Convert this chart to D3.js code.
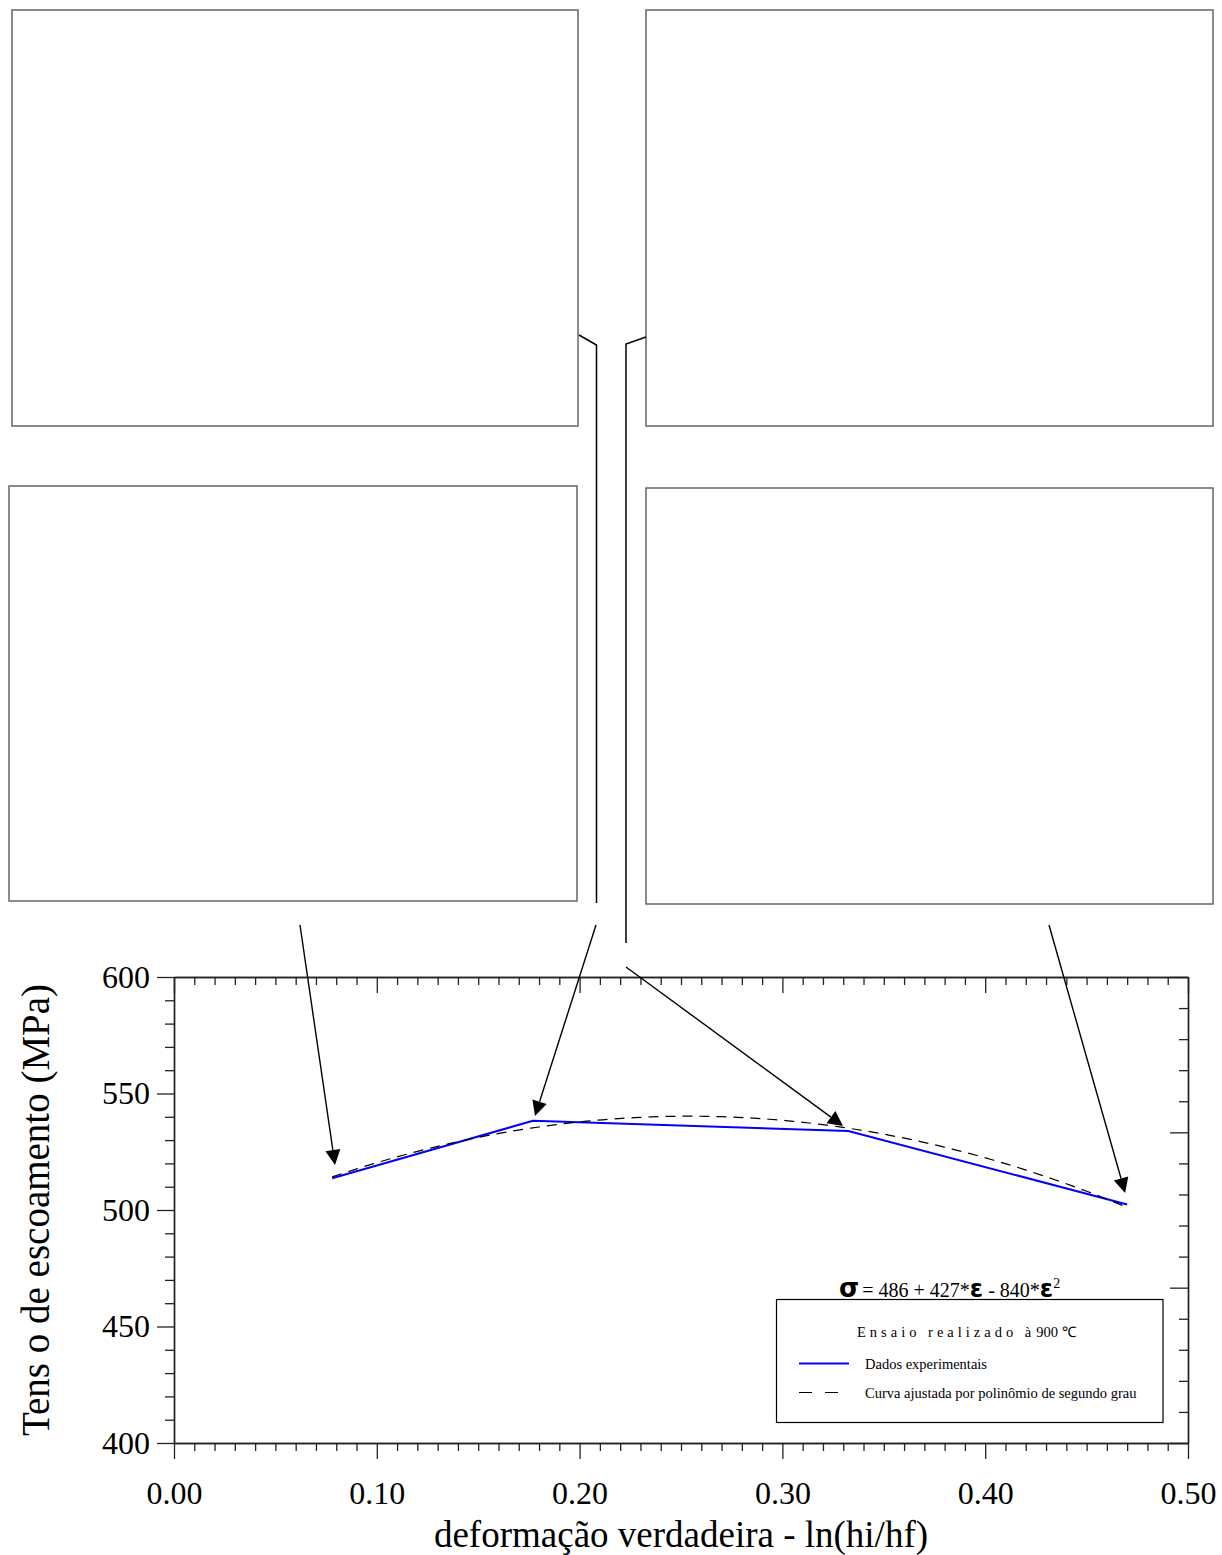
<!DOCTYPE html>
<html>
<head>
<meta charset="utf-8">
<script src="https://cdn.jsdelivr.net/npm/d3@7"></script>
<style>
  html, body { margin: 0; padding: 0; background: #fff; }
  svg { display: block; }
  text { font-family: "Times New Roman", "Liberation Serif", serif; fill: #000; }
</style>
</head>
<body>
<svg id="chart" width="1222" height="1555"></svg>
<script>
// Flow stress measured at 900 °C versus true strain
const strain = [0.078, 0.177, 0.3325, 0.470];
const stress = [513.6, 538.3, 533.9, 502.4];

// Second-degree polynomial fit: sigma = c0 + c1*e + c2*e^2
const fitCoef = [486, 427, -840];

// Axis ticks
const xMajorTicks = [0, 0.1, 0.2, 0.3, 0.4, 0.5];
const yMajorTicks = [400, 450, 500, 550, 600];

// Arrow tips (strain, stress) pointing at the four tested passes
const arrowTipStrain = [0.0794, 0.178, 0.3299, 0.469];
const arrowTipStress = [519.3, 540.3, 536.05, 507.3];

const svg = d3.select("#chart");

const plot = { left: 174, right: 1188, top: 977, bottom: 1443 };
const x = d3.scaleLinear([0, 0.5], [plot.left, plot.right]);
const y = d3.scaleLinear([400, 600], [plot.bottom, plot.top]);
const yRight = d3.scaleLinear([0, 15], [plot.bottom, plot.top]);

const axisColor = "#222";
const tickFont = 32;

function styleAxis(g) {
  g.selectAll("path.domain").attr("stroke", axisColor).attr("stroke-width", 1.4);
  g.selectAll(".tick line").attr("stroke", axisColor).attr("stroke-width", 1.3);
  g.selectAll("text").attr("font-family", "'Times New Roman', 'Liberation Serif', serif")
    .attr("font-size", tickFont).attr("fill", "#000");
}

const xMinor = d3.range(0, 51).map(i => i / 100).filter(v => Math.round(v * 100) % 10 !== 0);
const yMinor = d3.range(400, 601, 10).filter(v => v % 50 !== 0);
const rMinor = d3.range(0, 16).filter(v => v % 5 !== 0);

// Bottom axis: outward ticks with labels
svg.append("g").attr("transform", `translate(0,${plot.bottom})`)
  .call(d3.axisBottom(x).tickValues(xMinor).tickSize(8).tickSizeOuter(0).tickFormat(""))
  .call(styleAxis);
svg.append("g").attr("transform", `translate(0,${plot.bottom})`)
  .call(d3.axisBottom(x).tickValues(xMajorTicks).tickSize(16).tickSizeOuter(0)
    .tickPadding(22).tickFormat(d3.format(".2f")))
  .call(styleAxis);

// Top axis: inward ticks, no labels
svg.append("g").attr("transform", `translate(0,${plot.top})`)
  .call(d3.axisBottom(x).tickValues(xMinor).tickSize(8).tickSizeOuter(0).tickFormat(""))
  .call(styleAxis);
svg.append("g").attr("transform", `translate(0,${plot.top})`)
  .call(d3.axisBottom(x).tickValues(xMajorTicks).tickSize(16).tickSizeOuter(0).tickFormat(""))
  .call(styleAxis);

// Left axis: outward ticks with labels
svg.append("g").attr("transform", `translate(${plot.left},0)`)
  .call(d3.axisLeft(y).tickValues(yMinor).tickSize(9).tickSizeOuter(0).tickFormat(""))
  .call(styleAxis);
svg.append("g").attr("transform", `translate(${plot.left},0)`)
  .call(d3.axisLeft(y).tickValues(yMajorTicks).tickSize(17).tickSizeOuter(0)
    .tickPadding(7).tickFormat(d3.format("d")))
  .call(styleAxis);

// Right axis: inward ticks on its own subdivision
svg.append("g").attr("transform", `translate(${plot.right},0)`)
  .call(d3.axisLeft(yRight).tickValues(rMinor).tickSize(9).tickSizeOuter(0).tickFormat(""))
  .call(styleAxis);
svg.append("g").attr("transform", `translate(${plot.right},0)`)
  .call(d3.axisLeft(yRight).tickValues([0, 5, 10, 15]).tickSize(18).tickSizeOuter(0).tickFormat(""))
  .call(styleAxis);

// Axis titles
svg.append("text")
  .attr("x", (plot.left + plot.right) / 2)
  .attr("y", 1547)
  .attr("text-anchor", "middle")
  .attr("font-size", 37)
  .text("deformação verdadeira - ln(hi/hf)");

svg.append("text")
  .attr("transform", `translate(49,1210) rotate(-90)`)
  .attr("text-anchor", "middle")
  .attr("font-size", 39)
  .text("Tens o de escoamento (MPa)");

// Empty micrograph frames above the plot
const frames = [
  { x: 12, y: 10, w: 566, h: 416 },
  { x: 646, y: 10, w: 567, h: 416 },
  { x: 9, y: 486, w: 568, h: 415 },
  { x: 646, y: 488, w: 567, h: 416 }
];
svg.append("g").selectAll("rect").data(frames).join("rect")
  .attr("x", d => d.x).attr("y", d => d.y)
  .attr("width", d => d.w).attr("height", d => d.h)
  .attr("fill", "none").attr("stroke", "#666").attr("stroke-width", 1.5);

// Leader lines from the upper frames
const leaders = [
  [[579, 335], [596.5, 345], [596.5, 903]],
  [[646, 337], [626, 344], [626, 943]]
];
svg.append("g").selectAll("path").data(leaders).join("path")
  .attr("d", d => d3.line()(d))
  .attr("fill", "none").attr("stroke", "#000").attr("stroke-width", 1.5);

// Experimental data
const pts = strain.map((s, i) => [s, stress[i]]);
svg.append("path")
  .datum(pts)
  .attr("d", d3.line().x(d => x(d[0])).y(d => y(d[1])))
  .attr("fill", "none").attr("stroke", "#0000ff").attr("stroke-width", 2);

// Fitted polynomial over the measured strain range
const poly = e => fitCoef[0] + fitCoef[1] * e + fitCoef[2] * e * e;
const eFit = d3.range(0, 101).map(i => strain[0] + (strain[strain.length - 1] - strain[0]) * i / 100);
svg.append("path")
  .datum(eFit)
  .attr("d", d3.line().x(e => x(e)).y(e => y(poly(e))))
  .attr("fill", "none").attr("stroke", "#000").attr("stroke-width", 1.2)
  .attr("stroke-dasharray", "10,7");

// Arrows linking frames to data points
const arrowStarts = [[300, 925], [596, 925], [626, 967], [1049, 925]];
const arrows = arrowStarts.map((s, i) => ({ s, t: [x(arrowTipStrain[i]), y(arrowTipStress[i])] }));
const ag = svg.append("g");
arrows.forEach(a => {
  const dx = a.t[0] - a.s[0], dy = a.t[1] - a.s[1];
  const L = Math.hypot(dx, dy), ux = dx / L, uy = dy / L;
  const headL = 15, headW = 7.5;
  const bx = a.t[0] - ux * headL, by = a.t[1] - uy * headL;
  ag.append("line").attr("x1", a.s[0]).attr("y1", a.s[1]).attr("x2", bx).attr("y2", by)
    .attr("stroke", "#000").attr("stroke-width", 1.4);
  ag.append("path")
    .attr("d", `M${a.t[0]},${a.t[1]} L${bx - uy * headW},${by + ux * headW} L${bx + uy * headW},${by - ux * headW} Z`)
    .attr("fill", "#000");
});

// Equation of the fitted curve
const eq = svg.append("text").attr("x", 839).attr("y", 1297).attr("font-size", 20);
eq.append("tspan").attr("font-family", "'DejaVu Sans', sans-serif").attr("font-weight", "bold")
  .attr("font-size", 26).text("σ");
eq.append("tspan").attr("dx", -2).text(` = ${fitCoef[0]} + ${fitCoef[1]}*`);
eq.append("tspan").attr("font-family", "'DejaVu Sans', sans-serif").attr("font-weight", "bold")
  .attr("font-size", 24).text("ε");
eq.append("tspan").text(` - ${-fitCoef[2]}*`);
eq.append("tspan").attr("font-family", "'DejaVu Sans', sans-serif").attr("font-weight", "bold")
  .attr("font-size", 24).text("ε");
eq.append("tspan").attr("font-size", 14).attr("dy", -9).text("2");

// Legend
const lg = svg.append("g");
lg.append("rect").attr("x", 776.5).attr("y", 1299.5).attr("width", 386.5).attr("height", 123)
  .attr("fill", "#fff").attr("stroke", "#000").attr("stroke-width", 1.2);
const title = lg.append("text").attr("x", 857).attr("y", 1337).attr("font-size", 14.5);
title.append("tspan").attr("letter-spacing", 4).text("Ensaio realizado à");
title.append("tspan").attr("dx", 1).text("900 ℃");

lg.append("line").attr("x1", 799).attr("x2", 849).attr("y1", 1363.5).attr("y2", 1363.5)
  .attr("stroke", "#0000ff").attr("stroke-width", 1.8);
lg.append("text").attr("x", 865).attr("y", 1369).attr("font-size", 14.5).text("Dados experimentais");

lg.append("line").attr("x1", 799).attr("x2", 839).attr("y1", 1392.5).attr("y2", 1392.5)
  .attr("stroke", "#000").attr("stroke-width", 1.2).attr("stroke-dasharray", "13,13");
lg.append("text").attr("x", 865).attr("y", 1398).attr("font-size", 14.5)
  .text("Curva ajustada por polinômio de segundo grau");
</script>
</body>
</html>
